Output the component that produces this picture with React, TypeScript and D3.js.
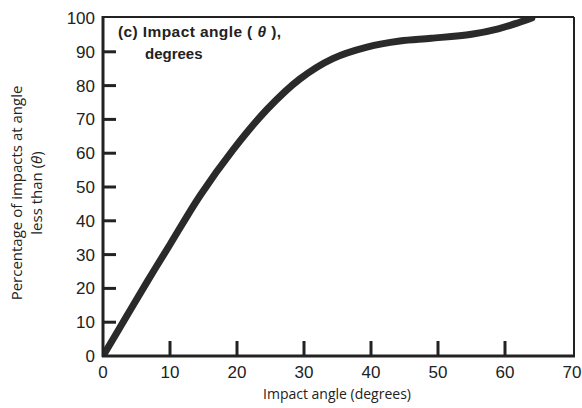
import React from "react";
import * as d3 from "d3";

const angles = [0, 3.3, 6.6, 10, 14.5, 19.4, 24.5, 29.4, 34.3, 39.4, 44.3, 49, 55, 59, 62, 64];
const percents = [0, 11, 22, 33, 47.5, 61, 73, 82, 88, 91.4, 93.2, 94, 95.2, 96.8, 98.6, 100];
const xTicks = [0, 10, 20, 30, 40, 50, 60, 70];
const yTicks = [0, 10, 20, 30, 40, 50, 60, 70, 80, 90, 100];

const W = 582, H = 408;
const x = d3.scaleLinear().domain([0, 70]).range([103, 572]);
const y = d3.scaleLinear().domain([0, 100]).range([356, 18]);

export default function App() {
  const pts = angles.map((a, i) => [a, percents[i]] as [number, number]);
  const line = d3.line<[number, number]>().x(d => x(d[0])).y(d => y(d[1])).curve(d3.curveCatmullRom.alpha(0.5));
  const font = "'Liberation Sans', Arial, sans-serif";
  return (
    <svg width={W} height={H} style={{ position: "absolute", left: 0, top: 0, background: "#fff" }}>
      <defs>
        <clipPath id="c"><rect x={103} y={17} width={472} height={340} /></clipPath>
      </defs>
      <path d={line(pts) || ""} fill="none" stroke="#2a2a2a" strokeWidth={7} strokeLinecap="round" clipPath="url(#c)" />
      <line x1={103} y1={17} x2={574} y2={17} stroke="#222" strokeWidth={2} />
      <line x1={574} y1={17} x2={574} y2={356} stroke="#222" strokeWidth={2} />
      <line x1={103} y1={16} x2={103} y2={357} stroke="#222" strokeWidth={3} />
      <line x1={102} y1={356} x2={575} y2={356} stroke="#222" strokeWidth={3} />
      {yTicks.filter(t => t > 0 && t < 100).map(t => (
        <line key={"yt" + t} x1={103} x2={116} y1={y(t)} y2={y(t)} stroke="#222" strokeWidth={3} />
      ))}
      {xTicks.filter(t => t > 0 && t < 70).map(t => (
        <line key={"xt" + t} x1={x(t)} x2={x(t)} y1={356} y2={341} stroke="#222" strokeWidth={3} />
      ))}
      {yTicks.map(t => (
        <text key={"yl" + t} x={95} y={y(t) + 6} textAnchor="end" fontFamily={font} fontSize={17} fill="#222">{t}</text>
      ))}
      {xTicks.map(t => (
        <text key={"xl" + t} x={x(t)} y={378} textAnchor="middle" fontFamily={font} fontSize={17} fill="#222">{t}</text>
      ))}
      <text x={337} y={399} textAnchor="middle" fontFamily="'Open Sans', sans-serif" fontSize={14} fill="#222">Impact angle (degrees)</text>
      <g transform="translate(22,193) rotate(-90)">
        <text x={0} y={0} textAnchor="middle" fontFamily="'Open Sans', sans-serif" fontSize={15} fill="#222">Percentage of impacts at angle</text>
        <text x={0} y={20} textAnchor="middle" fontFamily="'Open Sans', sans-serif" fontSize={15} fill="#222">less than (<tspan fontStyle="italic">θ</tspan>)</text>
      </g>
      <text x={118} y={37} fontFamily={font} fontWeight="bold" fontSize={15.5} fill="#222" letterSpacing={0.4}>(c) Impact angle ( <tspan fontStyle="italic">θ</tspan> ),</text>
      <text x={145} y={59} fontFamily={font} fontWeight="bold" fontSize={15} fill="#222">degrees</text>
    </svg>
  );
}
